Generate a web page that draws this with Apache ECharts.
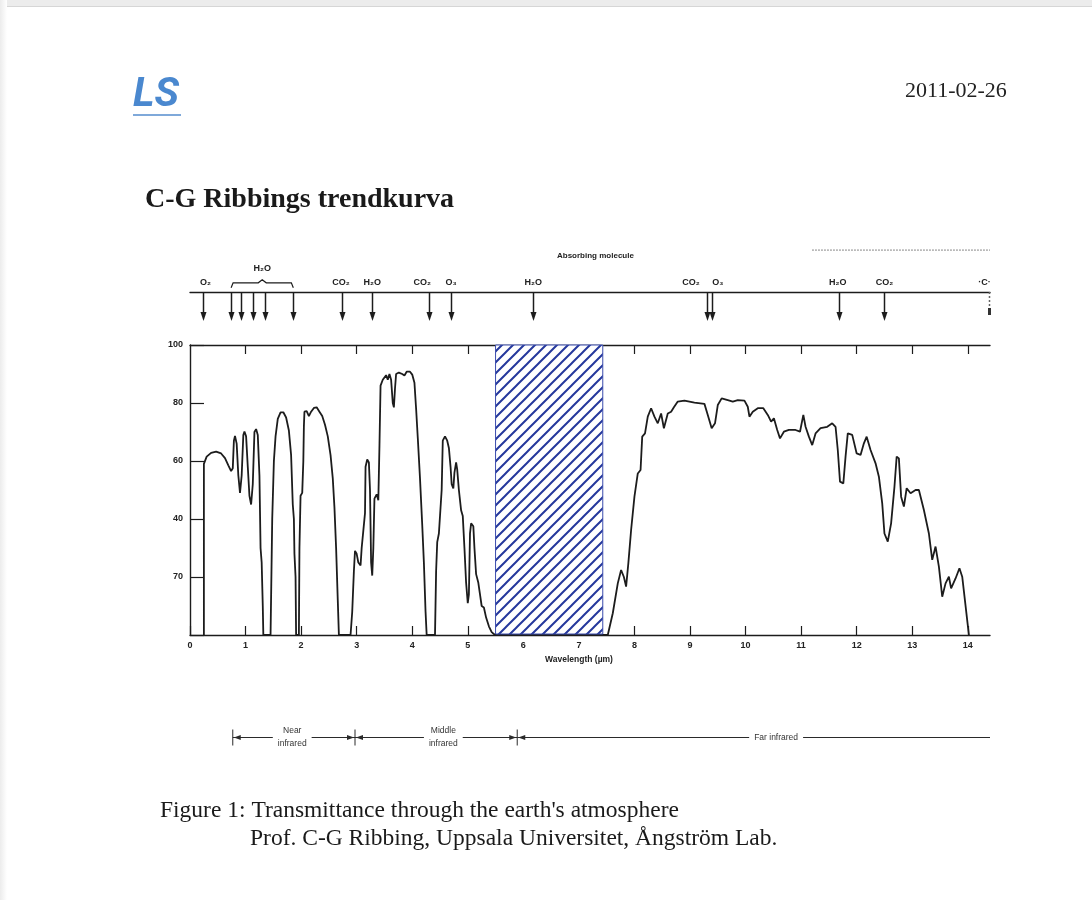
<!DOCTYPE html>
<html>
<head>
<meta charset="utf-8">
<script src="https://cdn.jsdelivr.net/npm/echarts@6/dist/echarts.min.js"></script>
<style>
html, body { margin: 0; padding: 0; background: #fff; }
#topbar { position: absolute; left: 0; top: 0; width: 1092px; height: 6px; background: #ececec; border-bottom: 1px solid #d6d6d6; }
#leftbar { position: absolute; left: 0; top: 0; width: 7px; height: 900px; background: linear-gradient(to right, #ececec, #fff); }
#main { position: absolute; left: 0; top: 0; width: 1092px; height: 900px; }
</style>
</head>
<body>
<div id="topbar"></div>
<div id="leftbar"></div>
<div id="main"></div>
<script type="text/javascript">
// transmittance curve (wavelength in um, transmittance in %)
var wavelength = [
    0.25, 0.25, 0.30, 0.38, 0.47, 0.56, 0.63, 0.69, 0.74, 0.77, 0.79, 0.81, 0.84, 0.87, 0.90, 0.93,
    0.96, 0.98, 1.01, 1.04, 1.07, 1.10, 1.13, 1.16, 1.19, 1.22, 1.25, 1.27, 1.29, 1.31, 1.32,
    1.45, 1.48, 1.51, 1.54, 1.58, 1.63, 1.68, 1.73, 1.78, 1.82, 1.85, 1.87, 1.88, 1.90, 1.91,
    1.96, 1.97, 1.99, 2.02, 2.04, 2.05, 2.06, 2.10, 2.14, 2.18, 2.23, 2.28, 2.33, 2.38, 2.43,
    2.48, 2.53, 2.57, 2.60, 2.63, 2.66, 2.68,
    2.89, 2.92, 2.95, 2.97, 3.00, 3.03, 3.07, 3.09, 3.12, 3.15, 3.16, 3.19, 3.22, 3.24, 3.26,
    3.28, 3.30, 3.32, 3.36, 3.39, 3.41, 3.43, 3.47, 3.50, 3.53, 3.56, 3.59, 3.62, 3.65, 3.67,
    3.69, 3.71, 3.76, 3.82, 3.86, 3.90, 3.96, 4.00, 4.04, 4.07, 4.10, 4.14, 4.18, 4.21, 4.24, 4.26,
    4.41, 4.43, 4.45, 4.48, 4.51, 4.53, 4.55, 4.59, 4.63, 4.66, 4.69, 4.71, 4.74, 4.76, 4.79,
    4.81, 4.84, 4.88, 4.91, 4.94, 4.97, 5.00, 5.02, 5.04, 5.06, 5.10, 5.12, 5.15, 5.19, 5.22,
    5.25, 5.29, 5.33, 5.38, 5.43, 5.49,
    7.52, 7.61, 7.70, 7.76, 7.81, 7.85, 7.89, 7.94, 8.00, 8.06,
    8.11, 8.14, 8.19, 8.24, 8.30, 8.36, 8.42, 8.48, 8.53, 8.60,
    8.66, 8.71, 8.78, 8.90, 9.08, 9.26, 9.32, 9.39, 9.45, 9.50,
    9.57, 9.68, 9.77, 9.86, 9.98, 10.04, 10.07, 10.13, 10.22, 10.32,
    10.40, 10.46, 10.51, 10.57, 10.62, 10.69, 10.78, 10.90, 10.98, 11.04,
    11.08, 11.14, 11.20, 11.26, 11.35, 11.47, 11.56, 11.62, 11.66, 11.70,
    11.76, 11.80, 11.84, 11.92, 12.00, 12.07, 12.13, 12.18, 12.25, 12.34,
    12.40, 12.46, 12.50, 12.56, 12.62, 12.68, 12.72, 12.76, 12.80, 12.85,
    12.90, 12.97, 13.06, 13.12, 13.21, 13.30, 13.36, 13.42, 13.48, 13.54,
    13.60, 13.66, 13.70, 13.78, 13.85, 13.90, 14.00, 14.02
];
var transmittance = [
    0, 59, 61.5, 62.8, 63.2, 62.6, 61, 58.5, 56.5, 57.5, 67, 68.6, 66, 55, 49, 55,
    69, 70.2, 68.5, 58, 48, 45, 52, 70, 71, 69, 55, 30, 25, 10, 0,
    0, 40, 60, 68.5, 74.5, 76.8, 76.8, 75, 70.5, 62, 45, 40, 28, 20, 0,
    0, 30, 48, 49, 60, 72, 77, 77.2, 75.5, 77, 78.3, 78.5, 77, 75.5, 72.5,
    68.5, 62, 54, 44, 30, 12, 0,
    0, 8, 22, 29, 28, 25, 24, 30, 36, 42, 58, 60.5, 59.5, 50, 25,
    20.5, 30, 47, 48.5, 46.5, 65, 86, 88, 87.5, 89.6, 88, 90, 88, 80, 78.5,
    85, 90, 90.5, 90, 89.5, 90.8, 90.8, 89.8, 87, 78, 68, 54, 38, 25, 8, 0,
    0, 22, 32, 35, 34.5, 50, 67, 68.5, 67, 64.5, 58, 52, 50.5, 56, 59.5,
    57, 50, 43, 41, 30, 18, 11, 14, 35, 38.5, 37.5, 30, 21, 18, 14,
    10, 9.5, 6, 3, 1, 0,
    0, 7.5, 17.8, 22.4, 20, 16.7, 24.7, 36.2, 47.7, 55.7,
    56.9, 68.4, 69.5, 75.3, 78.2, 75.3, 73, 76.4, 71.3, 76.4,
    77, 78.5, 80.5, 80.8, 80.1, 79.7, 75.9, 71.3, 73, 79.3,
    81.6, 81, 80.5, 81, 80.8, 78.7, 75.3, 77, 78.2, 78.2,
    75.9, 73.6, 74.7, 70.7, 67.8, 70.1, 70.7, 70.7, 70.1, 75.9,
    71.8, 68.4, 65.5, 69.5, 71.3, 71.8, 73, 71.8, 63.8, 52.9,
    52.3, 61.5, 69.5, 69, 62.6, 62.1, 66.1, 68.4, 63.8, 59.2,
    54.6, 45.4, 35, 32.2, 38.5, 51.1, 61.5, 60.9, 47.7, 44.3,
    50.6, 48.9, 50, 50, 43.1, 35, 25.9, 30.5, 23.6, 13.2,
    17.8, 20.1, 16.1, 19.5, 23, 20.1, 3.4, 0
];

var xTicks = [0, 1, 2, 3, 4, 5, 6, 7, 8, 9, 10, 11, 12, 13, 14];
var yTickLabels = ['', '70', '40', '60', '80', '100'];   // as printed in the scan

// hatched band
var hatchBand = [5.5, 7.43, 100];

// absorbing molecules strip
var arrowPos = [0.23, 0.74, 0.92, 1.14, 1.35, 1.86, 2.74, 3.28, 4.31, 4.70, 6.18, 9.30, 9.39, 11.68, 12.50];
var faintArrowPos = [14.38];
var moleculeNames = ['O₂', 'H₂O', 'CO₂', 'H₂O', 'CO₂', 'O₃', 'H₂O', 'CO₂', 'O₃', 'H₂O', 'CO₂', '·C·'];
var moleculePos = [0.28, 1.30, 2.72, 3.28, 4.18, 4.70, 6.18, 9.02, 9.50, 11.66, 12.50, 14.30];
var moleculeLevel = [0.22, 0.57, 0.22, 0.22, 0.22, 0.22, 0.22, 0.22, 0.22, 0.22, 0.22, 0.22];
var h2oBracket = [0.74, 1.86];

// infrared bands
var bandEdges = [0.77, 2.97, 5.89, 14.4];
var bandNames = ['Near\ninfrared', 'Middle\ninfrared', 'Far infrared'];
var bandLabelPos = [1.84, 4.56, 10.55];

var curve = [];
for (var i = 0; i < wavelength.length; i++) {
    curve.push([wavelength[i], transmittance[i]]);
}

// diagonal hatch pattern
var hatch = document.createElement('canvas');
var s = 11;
hatch.width = s; hatch.height = s;
var hc = hatch.getContext('2d');
hc.fillStyle = '#fff';
hc.fillRect(0, 0, s, s);
hc.strokeStyle = '#25389c';
hc.lineWidth = 2;
hc.beginPath();
hc.moveTo(-2, s + 2); hc.lineTo(s + 2, -2);
hc.moveTo(-2, 2); hc.lineTo(2, -2);
hc.moveTo(s - 2, s + 2); hc.lineTo(s + 2, s - 2);
hc.stroke();

var ink = '#1c1c1c';
var myChart = echarts.init(document.getElementById('main'));

var option = {
    animation: false,
    backgroundColor: 'transparent',
    grid: [
        { left: 190, top: 345, width: 800, height: 290 },
        { left: 190, top: 250, width: 800, height: 42 },
        { left: 190, top: 725, width: 800, height: 24 }
    ],
    xAxis: [
        {
            type: 'value', gridIndex: 0, min: 0, max: 14.4, position: 'bottom',
            splitLine: { show: false },
            axisLine: { lineStyle: { color: ink, width: 1.4 } },
            axisTick: { inside: true, length: 9, customValues: xTicks, lineStyle: { color: ink, width: 1.2 } },
            axisLabel: {
                customValues: xTicks, margin: 6, color: '#222',
                fontFamily: 'Liberation Sans', fontWeight: 'bold', fontSize: 9
            },
            name: 'Wavelength (µm)', nameLocation: 'middle', nameGap: 20,
            nameTextStyle: { color: '#222', fontFamily: 'Liberation Sans', fontWeight: 'bold', fontSize: 8.5, padding: [0, 22, 0, 0] }
        },
        {
            type: 'value', gridIndex: 0, min: 0, max: 14.4, position: 'top',
            splitLine: { show: false },
            axisLine: { lineStyle: { color: ink, width: 1.4 } },
            axisTick: { inside: true, length: 9, customValues: xTicks.slice(1), lineStyle: { color: ink, width: 1.2 } },
            axisLabel: { show: false }
        },
        {
            type: 'value', gridIndex: 1, min: 0, max: 14.4, position: 'bottom',
            splitLine: { show: false },
            axisLine: { lineStyle: { color: ink, width: 1.4 } },
            axisTick: { show: false }, axisLabel: { show: false }
        },
        { type: 'value', gridIndex: 2, min: 0, max: 14.4, show: false }
    ],
    yAxis: [
        {
            type: 'value', gridIndex: 0, min: 0, max: 100, interval: 20,
            splitLine: { show: false },
            axisLine: { show: true, lineStyle: { color: ink, width: 1.4 } },
            axisTick: { inside: true, length: 14, lineStyle: { color: ink, width: 1.2 } },
            axisLabel: {
                margin: 7, color: '#222', fontFamily: 'Liberation Sans', fontWeight: 'bold', fontSize: 9,
                formatter: function (v) { return yTickLabels[Math.round(v / 20)]; }
            }
        },
        { type: 'value', gridIndex: 1, min: 0, max: 1, show: false },
        { type: 'value', gridIndex: 2, min: 0, max: 1, show: false }
    ],
    series: [
        {
            type: 'custom', xAxisIndex: 0, yAxisIndex: 0, z: 5,
            data: [hatchBand],
            renderItem: function (params, api) {
                var p0 = api.coord([api.value(0), api.value(2)]);
                var p1 = api.coord([api.value(1), 0]);
                return {
                    type: 'rect',
                    shape: { x: p0[0], y: p0[1], width: p1[0] - p0[0], height: p1[1] - p0[1] - 1 },
                    style: { fill: { image: hatch, repeat: 'repeat' }, stroke: '#3b4cae', lineWidth: 1 }
                };
            }
        },
        {
            type: 'line', xAxisIndex: 0, yAxisIndex: 0, z: 3,
            data: curve, showSymbol: false,
            lineStyle: { color: ink, width: 1.8 }
        },
        {
            // arrows of absorbing molecules
            type: 'custom', xAxisIndex: 2, yAxisIndex: 1,
            data: arrowPos.map(function (v) { return [v]; }),
            renderItem: function (params, api) {
                var p = api.coord([api.value(0), 0]);
                var x = Math.round(p[0]) + 0.5, y = p[1];
                return {
                    type: 'group',
                    children: [
                        { type: 'line', shape: { x1: x, y1: y, x2: x, y2: y + 22 }, style: { stroke: ink, lineWidth: 1.5 } },
                        { type: 'polygon', shape: { points: [[x - 3, y + 20], [x + 3, y + 20], [x, y + 29]] }, style: { fill: ink } }
                    ]
                };
            }
        },
        {
            type: 'custom', xAxisIndex: 2, yAxisIndex: 1,
            data: faintArrowPos.map(function (v) { return [v]; }),
            renderItem: function (params, api) {
                var p = api.coord([api.value(0), 0]);
                var x = Math.round(p[0]) + 0.5, y = p[1];
                return {
                    type: 'group',
                    children: [
                        { type: 'line', shape: { x1: x, y1: y, x2: x, y2: y + 24 }, style: { stroke: '#666', lineWidth: 1.5, lineDash: [2, 2] } },
                        { type: 'rect', shape: { x: x - 1.5, y: y + 16, width: 3, height: 7 }, style: { fill: '#333' } }
                    ]
                };
            }
        },
        {
            // molecule names
            type: 'custom', xAxisIndex: 2, yAxisIndex: 1,
            data: moleculePos.map(function (v, k) { return [v, moleculeLevel[k]]; }),
            renderItem: function (params, api) {
                var p = api.coord([api.value(0), api.value(1)]);
                return {
                    type: 'text', x: p[0], y: p[1],
                    style: {
                        text: moleculeNames[params.dataIndex], align: 'center', verticalAlign: 'middle',
                        font: 'bold 9px "Liberation Sans"', fill: '#222'
                    }
                };
            }
        },
        {
            // H2O bracket
            type: 'custom', xAxisIndex: 2, yAxisIndex: 1,
            data: [h2oBracket],
            renderItem: function (params, api) {
                var a = api.coord([api.value(0), 0.1]);
                var b = api.coord([api.value(1), 0.1]);
                var m = (a[0] + b[0]) / 2, y = a[1];
                return {
                    type: 'polyline',
                    shape: { points: [[a[0], y], [a[0] + 2, y - 5], [m - 4, y - 5], [m, y - 8], [m + 4, y - 5], [b[0] - 2, y - 5], [b[0], y]] },
                    style: { stroke: ink, lineWidth: 1.2, fill: null }
                };
            }
        },
        {
            // faint upper rule of the strip
            type: 'line', xAxisIndex: 2, yAxisIndex: 1,
            data: [[11.2, 1], [14.4, 1]], showSymbol: false,
            lineStyle: { color: '#888', width: 1.5, type: 'dotted' }
        },
        {
            // infrared bands
            type: 'custom', xAxisIndex: 3, yAxisIndex: 2,
            data: bandNames.map(function (n, k) { return [bandEdges[k], bandEdges[k + 1], bandLabelPos[k]]; }),
            renderItem: function (params, api) {
                var k = params.dataIndex;
                var a = api.coord([api.value(0), 0.5]);
                var b = api.coord([api.value(1), 0.5]);
                var c = api.coord([api.value(2), 0.5]);
                var y = Math.round(a[1]) + 0.5;
                var col = '#2a2a2a';
                var kids = [
                    { type: 'line', shape: { x1: a[0], y1: y, x2: b[0], y2: y }, style: { stroke: col, lineWidth: 1 } },
                    { type: 'line', shape: { x1: a[0], y1: y - 8, x2: a[0], y2: y + 8 }, style: { stroke: col, lineWidth: 1 } },
                    { type: 'polygon', shape: { points: [[a[0] + 1, y], [a[0] + 8, y - 2.5], [a[0] + 8, y + 2.5]] }, style: { fill: col } }
                ];
                if (k < bandNames.length - 1) {
                    kids.push({ type: 'polygon', shape: { points: [[b[0] - 1, y], [b[0] - 8, y - 2.5], [b[0] - 8, y + 2.5]] }, style: { fill: col } });
                }
                kids.push({
                    type: 'text', x: c[0], y: y,
                    style: {
                        text: bandNames[k], align: 'center', verticalAlign: 'middle',
                        font: '8.5px "Liberation Sans"', fill: '#333', backgroundColor: '#fff',
                        padding: [1, 5], lineHeight: 13
                    }
                });
                return { type: 'group', children: kids };
            }
        }
    ],
    graphic: [
        { type: 'text', left: 133, top: 75, style: { text: 'LS', font: 'italic bold 41px Roboto', fill: '#4a88cf' } },
        { type: 'rect', left: 133, top: 114, shape: { width: 48, height: 2 }, style: { fill: '#7fa9da' } },
        { type: 'text', left: 905, top: 80, style: { text: '2011-02-26', font: '22px "Liberation Serif"', fill: '#222' } },
        { type: 'text', left: 145, top: 186, style: { text: 'C-G Ribbings trendkurva', font: 'bold 28px "Liberation Serif"', fill: '#1a1a1a' } },
        { type: 'text', left: 557, top: 252, style: { text: 'Absorbing molecule', font: 'bold 8px "Liberation Sans"', fill: '#222' } },
        { type: 'text', left: 160, top: 799, style: { text: "Figure 1: Transmittance through the earth's atmosphere", font: '23.5px "Liberation Serif"', fill: '#1a1a1a' } },
        { type: 'text', left: 250, top: 827, style: { text: 'Prof. C-G Ribbing, Uppsala Universitet, Ångström Lab.', font: '23.5px "Liberation Serif"', fill: '#1a1a1a' } }
    ]
};

myChart.setOption(option);
</script>
</body>
</html>
